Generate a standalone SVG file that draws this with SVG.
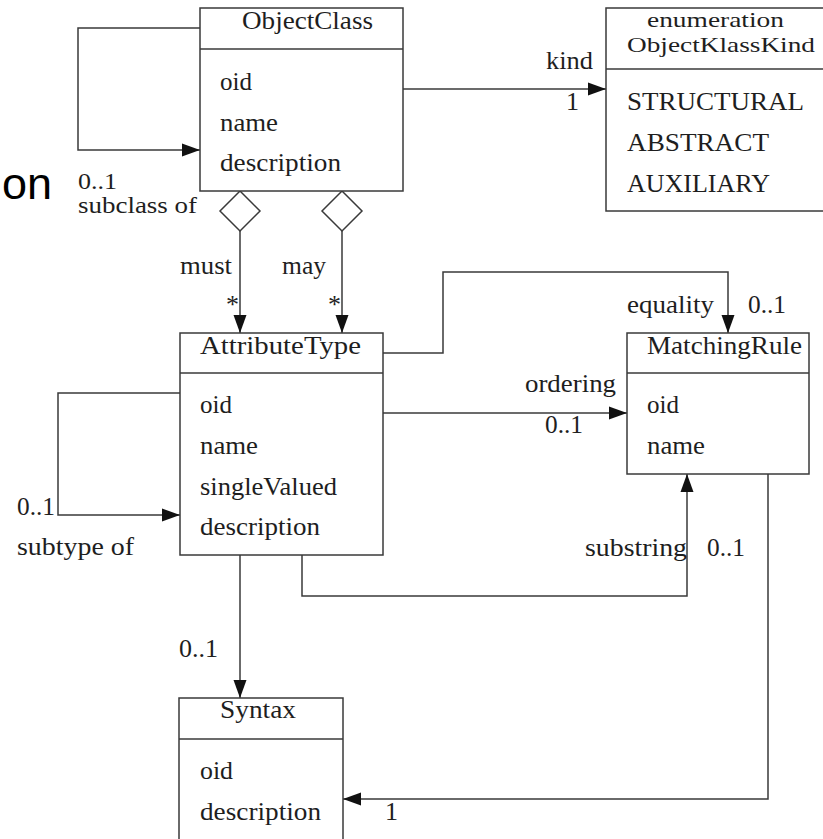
<svg xmlns="http://www.w3.org/2000/svg" width="823" height="839" viewBox="0 0 823 839">
<style>
.box{fill:#fff;stroke:#3a3a3a;stroke-width:1.5}
.ln{fill:none;stroke:#3a3a3a;stroke-width:1.5}
text{font-family:"Liberation Serif","Times New Roman",serif;font-size:26px;fill:#1e1e1e}
.sm{font-size:23px}
.xs{font-size:22px}
.end{text-anchor:end}
</style>
<defs>
<marker id="arr" markerUnits="userSpaceOnUse" markerWidth="18" markerHeight="14" refX="18" refY="7" orient="auto" viewBox="0 0 18 14">
<path d="M0,0.5 L18,7 L0,13.5 z" fill="#111"/>
</marker>
</defs>
<rect width="823" height="839" fill="#fff"/>

<text x="52" y="199" class="end" style="font-family:'Liberation Sans',Arial,sans-serif;font-size:45px;fill:#000">on</text>

<g id="connectors">
<path class="ln" d="M200,28 H78 V150 H200" marker-end="url(#arr)"/>
<path class="ln" d="M403,89 H606" marker-end="url(#arr)"/>
<path class="ln" d="M240,191 L260,211 L240,231 L220,211 Z"/>
<path class="ln" d="M342,191 L362,211 L342,231 L322,211 Z"/>
<path class="ln" d="M240,231 V333" marker-end="url(#arr)"/>
<path class="ln" d="M342,231 V333" marker-end="url(#arr)"/>
<path class="ln" d="M180,393 H58 V515 H180" marker-end="url(#arr)"/>
<path class="ln" d="M383,353 H443 V272 H728 V333" marker-end="url(#arr)"/>
<path class="ln" d="M383,413 H627" marker-end="url(#arr)"/>
<path class="ln" d="M302,555 V596 H687 V474" marker-end="url(#arr)"/>
<path class="ln" d="M240,555 V698" marker-end="url(#arr)"/>
<path class="ln" d="M768,474 V799 H343" marker-end="url(#arr)"/>
</g>

<g id="labels">
<text x="593" y="69" class="end" textLength="47" lengthAdjust="spacingAndGlyphs">kind</text>
<text x="566" y="110">1</text>
<text x="78" y="189" class="sm" textLength="39" lengthAdjust="spacingAndGlyphs">0..1</text>
<text x="78" y="213" class="sm" textLength="119" lengthAdjust="spacingAndGlyphs">subclass of</text>
<text x="232" y="274" class="end" textLength="52" lengthAdjust="spacingAndGlyphs">must</text>
<text x="282" y="274" textLength="44" lengthAdjust="spacingAndGlyphs">may</text>
<text x="226" y="313">*</text>
<text x="328" y="313">*</text>
<text x="17" y="515" textLength="38" lengthAdjust="spacingAndGlyphs">0..1</text>
<text x="17" y="555" textLength="117" lengthAdjust="spacingAndGlyphs">subtype of</text>
<text x="627" y="313" textLength="87" lengthAdjust="spacingAndGlyphs">equality</text>
<text x="748" y="313" textLength="38" lengthAdjust="spacingAndGlyphs">0..1</text>
<text x="525" y="392" textLength="91" lengthAdjust="spacingAndGlyphs">ordering</text>
<text x="545" y="433" textLength="38" lengthAdjust="spacingAndGlyphs">0..1</text>
<text x="585" y="556" textLength="102" lengthAdjust="spacingAndGlyphs">substring</text>
<text x="707" y="556" textLength="38" lengthAdjust="spacingAndGlyphs">0..1</text>
<text x="179" y="657" textLength="39" lengthAdjust="spacingAndGlyphs">0..1</text>
<text x="385" y="820">1</text>
</g>

<g id="ObjectClass">
<rect class="box" x="200" y="8" width="203" height="183"/>
<line class="ln" x1="200" y1="49" x2="403" y2="49"/>
<text x="242" y="29" textLength="131" lengthAdjust="spacingAndGlyphs">ObjectClass</text>
<text x="220" y="90" textLength="32" lengthAdjust="spacingAndGlyphs">oid</text>
<text x="220" y="130.5" textLength="58" lengthAdjust="spacingAndGlyphs">name</text>
<text x="220" y="171" textLength="121" lengthAdjust="spacingAndGlyphs">description</text>
</g>

<g id="ObjectKlassKind">
<rect class="box" x="606" y="8" width="230" height="203"/>
<line class="ln" x1="606" y1="69" x2="836" y2="69"/>
<text x="647" y="27" class="xs" textLength="137" lengthAdjust="spacingAndGlyphs">enumeration</text>
<text x="627" y="52" class="xs" textLength="188" lengthAdjust="spacingAndGlyphs">ObjectKlassKind</text>
<text x="627" y="110" textLength="177" lengthAdjust="spacingAndGlyphs">STRUCTURAL</text>
<text x="627" y="151" textLength="142" lengthAdjust="spacingAndGlyphs">ABSTRACT</text>
<text x="627" y="192" textLength="143" lengthAdjust="spacingAndGlyphs">AUXILIARY</text>
</g>

<g id="AttributeType">
<rect class="box" x="180" y="333" width="203" height="222"/>
<line class="ln" x1="180" y1="373" x2="383" y2="373"/>
<text x="200" y="354" textLength="161" lengthAdjust="spacingAndGlyphs">AttributeType</text>
<text x="200" y="413" textLength="32" lengthAdjust="spacingAndGlyphs">oid</text>
<text x="200" y="454" textLength="58" lengthAdjust="spacingAndGlyphs">name</text>
<text x="200" y="495" textLength="137" lengthAdjust="spacingAndGlyphs">singleValued</text>
<text x="200" y="535" textLength="120" lengthAdjust="spacingAndGlyphs">description</text>
</g>

<g id="MatchingRule">
<rect class="box" x="627" y="333" width="182" height="141"/>
<line class="ln" x1="627" y1="373" x2="809" y2="373"/>
<text x="647" y="354" textLength="155" lengthAdjust="spacingAndGlyphs">MatchingRule</text>
<text x="647" y="413" textLength="32" lengthAdjust="spacingAndGlyphs">oid</text>
<text x="647" y="454" textLength="58" lengthAdjust="spacingAndGlyphs">name</text>
</g>

<g id="Syntax">
<rect class="box" x="179" y="698" width="164" height="160"/>
<line class="ln" x1="179" y1="739" x2="343" y2="739"/>
<text x="220" y="718" textLength="76" lengthAdjust="spacingAndGlyphs">Syntax</text>
<text x="200" y="779" textLength="33" lengthAdjust="spacingAndGlyphs">oid</text>
<text x="200" y="820" textLength="121" lengthAdjust="spacingAndGlyphs">description</text>
</g>
</svg>
